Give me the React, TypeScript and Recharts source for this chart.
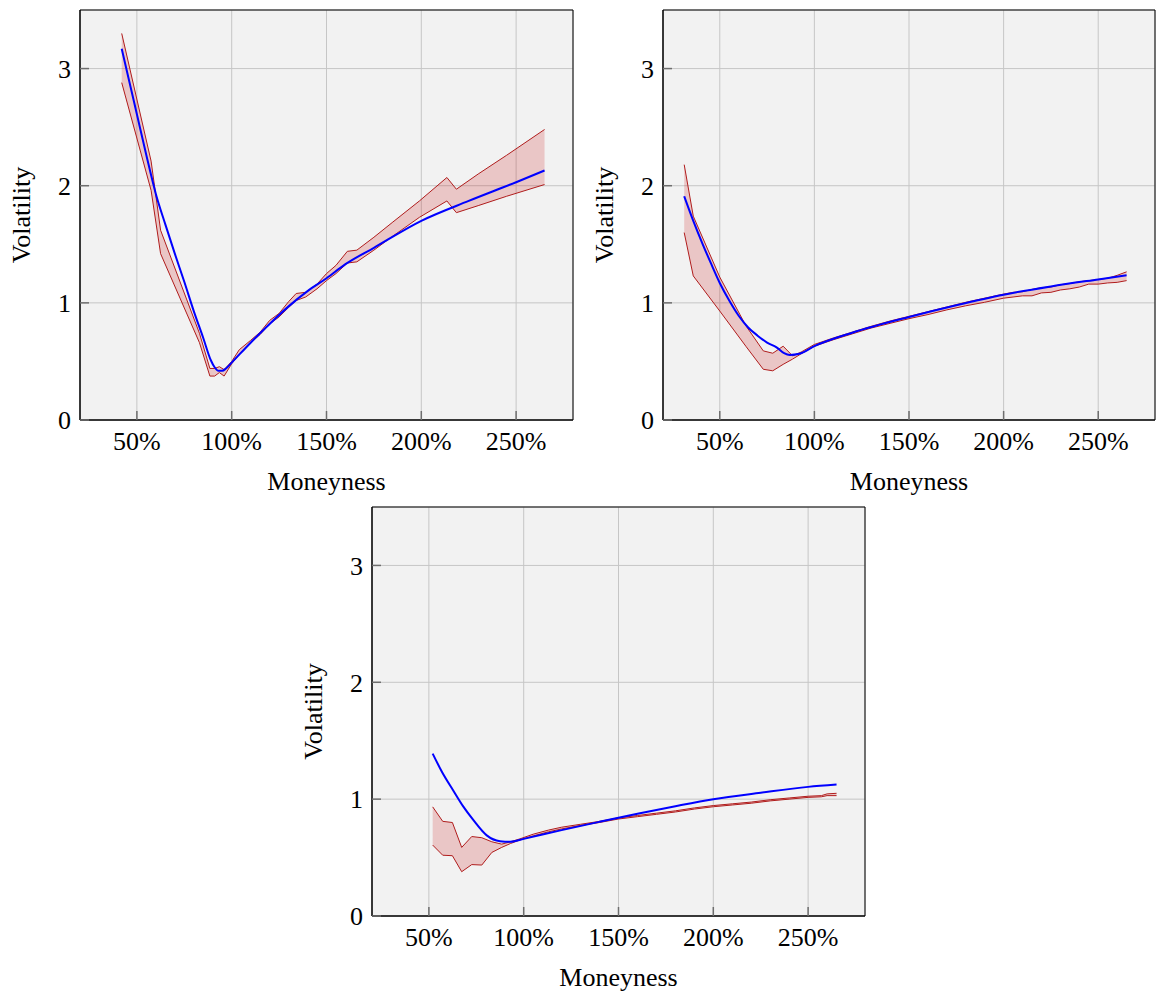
import { ComposedChart, Area, Line, XAxis, YAxis, CartesianGrid, ReferenceArea } from "recharts";

const moneynessTicks = [50, 100, 150, 200, 250];
const volatilityTicks = [0, 1, 2, 3];
const xDomain = [20, 280];
const yDomain = [0, 3.5];

// panel 1 (top left)
const band1X = [42, 57.5, 62.5, 83, 88.5, 91, 93.5, 96, 100, 104, 110, 115, 120, 125, 130, 134, 139, 145, 150, 155, 161, 166, 175, 185, 199, 213.5, 218.5, 230, 245, 265];
const band1Lo = [2.88, 1.96, 1.42, 0.66, 0.375, 0.375, 0.405, 0.375, 0.48, 0.56, 0.66, 0.73, 0.82, 0.88, 0.96, 1.02, 1.05, 1.12, 1.19, 1.25, 1.34, 1.35, 1.45, 1.57, 1.73, 1.87, 1.77, 1.83, 1.91, 2.01];
const band1Hi = [3.3, 2.21, 1.62, 0.74, 0.44, 0.44, 0.455, 0.43, 0.5, 0.6, 0.68, 0.75, 0.85, 0.91, 1.01, 1.08, 1.09, 1.16, 1.25, 1.32, 1.44, 1.45, 1.56, 1.69, 1.87, 2.07, 1.97, 2.1, 2.26, 2.48];
const fit1X = [42, 46, 50, 55, 60, 65, 70, 75, 80, 85, 89, 91, 93, 95, 97, 100, 110, 120, 130, 140, 150, 160, 175, 200, 225, 250, 265];
const fit1 = [3.17, 2.89, 2.61, 2.26, 1.93, 1.67, 1.42, 1.18, 0.93, 0.7, 0.51, 0.45, 0.42, 0.42, 0.44, 0.49, 0.66, 0.82, 0.97, 1.1, 1.21, 1.33, 1.47, 1.7, 1.87, 2.03, 2.13];

// panel 2 (top right)
const band2X = [31.2, 36, 50, 64, 73, 78, 83.5, 88.5, 93, 100, 110, 120, 130, 140, 150, 160, 170, 180, 190, 200, 205, 210, 215, 220, 225, 230, 235, 240, 245, 250, 255, 260, 265];
const band2Lo = [1.6, 1.23, 0.93, 0.625, 0.433, 0.42, 0.475, 0.52, 0.565, 0.63, 0.685, 0.735, 0.785, 0.825, 0.865, 0.9, 0.94, 0.975, 1.005, 1.04, 1.05, 1.06, 1.06, 1.085, 1.09, 1.11, 1.12, 1.135, 1.16, 1.16, 1.17, 1.175, 1.19];
const band2Hi = [2.18, 1.74, 1.22, 0.8, 0.59, 0.57, 0.63, 0.547, 0.58, 0.645, 0.7, 0.75, 0.8, 0.845, 0.885, 0.925, 0.965, 1.005, 1.04, 1.075, 1.09, 1.095, 1.115, 1.13, 1.135, 1.155, 1.165, 1.18, 1.19, 1.2, 1.21, 1.235, 1.265];
const fit2X = [31.2, 36, 41, 45, 50, 55, 60, 65, 70, 75, 80, 84, 87, 92, 100, 120, 150, 175, 200, 225, 250, 265];
const fit2 = [1.91, 1.7, 1.5, 1.35, 1.17, 1.02, 0.89, 0.79, 0.72, 0.66, 0.62, 0.57, 0.555, 0.565, 0.63, 0.745, 0.88, 0.98, 1.07, 1.14, 1.2, 1.235];

// panel 3 (bottom)
const band3X = [52, 57.3, 62.4, 67.3, 72.6, 77.9, 83.2, 88.4, 93, 98, 105, 113, 120, 130, 140, 150, 160, 170, 180, 190, 200, 210, 220, 230, 240, 250, 257, 260, 265];
const band3Lo = [0.607, 0.52, 0.516, 0.379, 0.44, 0.436, 0.544, 0.587, 0.62, 0.65, 0.685, 0.72, 0.745, 0.775, 0.8, 0.83, 0.85, 0.87, 0.89, 0.915, 0.935, 0.95, 0.965, 0.985, 1.0, 1.015, 1.02, 1.03, 1.03];
const band3Hi = [0.934, 0.81, 0.8, 0.587, 0.68, 0.67, 0.635, 0.615, 0.635, 0.66, 0.7, 0.735, 0.76, 0.785, 0.81, 0.84, 0.86, 0.88, 0.9, 0.925, 0.945, 0.96, 0.975, 0.995, 1.01, 1.025, 1.03, 1.045, 1.05];
const fit3X = [52, 57, 63, 68, 73.5, 80.5, 87.5, 93, 100, 120, 140, 160, 180, 200, 225, 250, 265];
const fit3 = [1.39, 1.23, 1.07, 0.94, 0.82, 0.69, 0.64, 0.635, 0.66, 0.735, 0.806, 0.875, 0.94, 1.0, 1.055, 1.105, 1.125];

const FONT = '"Liberation Serif", "Times New Roman", serif';
const tickStyle = { fill: "#000", fontSize: 26, fontFamily: FONT };

function zipBand(xs: number[], lo: number[], hi: number[]) {
  return xs.map((x, i) => ({ x, lo: lo[i], hi: hi[i], band: [lo[i], hi[i]] }));
}

function zipFit(xs: number[], ys: number[]) {
  return xs.map((x, i) => ({ x, fit: ys[i] }));
}

function XTitle(props: any) {
  const vb = props.viewBox;
  return (
    <text x={vb.x + vb.width / 2} y={vb.y + 70} textAnchor="middle" fill="#000" fontSize={26} fontFamily={FONT}>
      Moneyness
    </text>
  );
}

function YTitle(props: any) {
  const vb = props.viewBox;
  const x = vb.x + 30;
  const y = vb.y + vb.height / 2;
  return (
    <text x={x} y={y} transform={`rotate(-90, ${x}, ${y})`} textAnchor="middle" fill="#000" fontSize={26} fontFamily={FONT}>
      Volatility
    </text>
  );
}

interface PanelProps {
  band: { x: number; lo: number; hi: number; band: number[] }[];
  fit: { x: number; fit: number }[];
  left: number;
  top: number;
  width: number;
  height: number;
  right: number;
}

function VolPanel({ band, fit, left, top, width, height, right }: PanelProps) {
  const frame = { stroke: "#000", strokeWidth: 1 };
  const tickLine = { stroke: "#6e6e6e", strokeWidth: 1.5 };
  return (
    <div style={{ position: "absolute", left, top }}>
      <ComposedChart width={width} height={height} margin={{ top: 10, right, bottom: 0, left: 0 }}>
        <CartesianGrid stroke="#c6c6c6" fill="#f2f2f2" fillOpacity={1} />
        <XAxis
          dataKey="x"
          type="number"
          domain={xDomain}
          ticks={moneynessTicks}
          allowDataOverflow
          height={80}
          tickFormatter={(v) => `${v}%`}
          tickSize={-9}
          tickMargin={21}
          tick={tickStyle}
          axisLine={frame}
          tickLine={tickLine}
          label={<XTitle />}
        />
        <XAxis
          xAxisId="top"
          orientation="top"
          dataKey="x"
          type="number"
          domain={xDomain}
          ticks={moneynessTicks}
          allowDataOverflow
          height={0}
          tick={false}
          tickSize={-9}
          axisLine={frame}
          tickLine={tickLine}
        />
        <YAxis
          type="number"
          domain={yDomain}
          ticks={volatilityTicks}
          allowDataOverflow
          width={80}
          tickSize={-9}
          tickMargin={18}
          tick={tickStyle}
          axisLine={frame}
          tickLine={tickLine}
          label={<YTitle />}
        />
        <YAxis
          yAxisId="right"
          orientation="right"
          type="number"
          domain={yDomain}
          ticks={volatilityTicks}
          allowDataOverflow
          width={0}
          tick={false}
          tickSize={-9}
          axisLine={frame}
          tickLine={tickLine}
        />
        <Area
          data={band}
          dataKey="band"
          type="linear"
          stroke="none"
          fill="#c80000"
          fillOpacity={0.18}
          isAnimationActive={false}
          activeDot={false}
        />
        <Line data={band} dataKey="lo" type="linear" stroke="#b01c1c" strokeWidth={1} dot={false} activeDot={false} isAnimationActive={false} />
        <Line data={band} dataKey="hi" type="linear" stroke="#b01c1c" strokeWidth={1} dot={false} activeDot={false} isAnimationActive={false} />
        <Line data={fit} dataKey="fit" type="monotone" stroke="#0000ff" strokeWidth={2} dot={false} activeDot={false} isAnimationActive={false} />
        <ReferenceArea
          x1={xDomain[0]}
          x2={xDomain[1]}
          y1={yDomain[0]}
          y2={yDomain[1]}
          fill="none"
          stroke="#000"
          strokeWidth={1}
          ifOverflow="visible"
        />
      </ComposedChart>
    </div>
  );
}

export default function App() {
  return (
    <div style={{ position: "absolute", left: 0, top: 0, width: 1156, height: 996, overflow: "hidden", background: "#fff" }}>
      <VolPanel band={zipBand(band1X, band1Lo, band1Hi)} fit={zipFit(fit1X, fit1)} left={0} top={0} width={580} height={500} right={7} />
      <VolPanel band={zipBand(band2X, band2Lo, band2Hi)} fit={zipFit(fit2X, fit2)} left={583} top={0} width={573} height={500} right={1} />
      <VolPanel band={zipBand(band3X, band3Lo, band3Hi)} fit={zipFit(fit3X, fit3)} left={292} top={497} width={580} height={499} right={7} />
    </div>
  );
}
